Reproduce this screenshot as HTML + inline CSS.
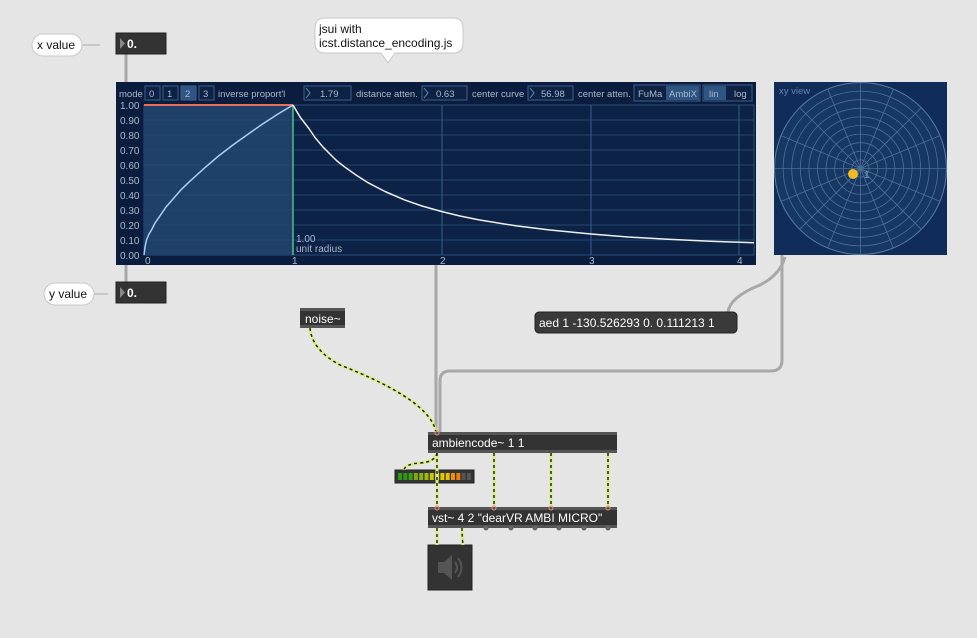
<!DOCTYPE html>
<html><head><meta charset="utf-8"><style>
html,body{margin:0;padding:0;background:#e5e5e5;width:977px;height:638px;overflow:hidden}
svg{display:block;font-family:"Liberation Sans",Arial,sans-serif}
</style></head><body>
<svg width="977" height="638" viewBox="0 0 977 638" xmlns="http://www.w3.org/2000/svg">
<defs>
<clipPath id="xyc"><rect x="774" y="82" width="173" height="173"/></clipPath>
</defs>
<rect width="977" height="638" fill="#e5e5e5"/>

<g fill="none" stroke="#a8a8a8" stroke-width="3">
<line x1="126" y1="54" x2="126" y2="82"/>
<line x1="126" y1="264" x2="126" y2="282"/>
<line x1="436" y1="265" x2="436" y2="432"/>
<path d="M782 255 L782 360 Q782 371 771 371 L450 371 Q440 371 440 381 L440 432"/>
<path d="M785 257 Q780 275 760 285 Q730 297 728 312"/>
</g>
<g stroke="#c8c8c8" stroke-width="2"><line x1="82" y1="45" x2="100" y2="45"/><line x1="94" y1="294" x2="108" y2="294"/></g>

<rect x="32" y="34" width="50" height="22" rx="11" fill="#fff" stroke="#c8c8c8"/>
<text x="37" y="49" font-size="12" fill="#111">x value</text>
<rect x="44" y="283" width="50" height="22" rx="11" fill="#fff" stroke="#c8c8c8"/>
<text x="49" y="298" font-size="12" fill="#111">y value</text>
<path d="M325 18 H453 Q463 18 463 28 V43 Q463 53 453 53 H395 L388 63 L381 53 H325 Q315 53 315 43 V28 Q315 18 325 18 Z" fill="#fff" stroke="#c8c8c8"/>
<text x="319" y="33" font-size="12" fill="#111">jsui with</text>
<text x="319" y="47" font-size="12" fill="#111">icst.distance_encoding.js</text>

<rect x="116" y="33" width="50" height="21" fill="#333" stroke="#222"/>
<path d="M120 38 L125 43.5 L120 49 Z" fill="#888"/>
<text x="127" y="48" font-size="12" font-weight="bold" fill="#fff">0.</text>
<rect x="116" y="282" width="50" height="21" fill="#333" stroke="#222"/>
<path d="M120 287 L125 292.5 L120 298 Z" fill="#888"/>
<text x="127" y="297" font-size="12" font-weight="bold" fill="#fff">0.</text>

<rect x="116" y="82" width="640" height="183" fill="#0b1d3e"/>
<g font-size="9.5" fill="#aab8cc">
<text x="119" y="97">mode</text>
<rect x="145" y="86" width="15" height="14" fill="#0d2244" stroke="#3c5f8a"/><text x="149" y="97">0</text>
<rect x="163" y="86" width="15" height="14" fill="#0d2244" stroke="#3c5f8a"/><text x="167" y="97">1</text>
<rect x="181" y="86" width="15" height="14" fill="#2f5583" stroke="#3c5f8a"/><text x="185" y="97">2</text>
<rect x="199" y="86" width="15" height="14" fill="#0d2244" stroke="#3c5f8a"/><text x="203" y="97">3</text>
<text x="218" y="97">inverse proport'l</text>
<rect x="304" y="86" width="47" height="14" fill="#0d2244" stroke="#3c5f8a"/><path d="M306 88 L310 93 L306 98" fill="none" stroke="#6a8ab0"/><text x="320" y="97">1.79</text>
<text x="356" y="97">distance atten.</text>
<rect x="422" y="86" width="45" height="14" fill="#0d2244" stroke="#3c5f8a"/><path d="M424 88 L428 93 L424 98" fill="none" stroke="#6a8ab0"/><text x="436" y="97">0.63</text>
<text x="472" y="97">center curve</text>
<rect x="528" y="86" width="45" height="14" fill="#0d2244" stroke="#3c5f8a"/><path d="M530 88 L534 93 L530 98" fill="none" stroke="#6a8ab0"/><text x="541" y="97">56.98</text>
<text x="578" y="97">center atten.</text>
<rect x="634" y="85" width="66" height="16" fill="#0d2244" stroke="#3c5f8a"/><rect x="666" y="86" width="33" height="14" fill="#2f5583"/>
<text x="638" y="97">FuMa</text><text x="669" y="97">AmbiX</text>
<rect x="703" y="85" width="49" height="16" fill="#0d2244" stroke="#3c5f8a"/><rect x="704" y="86" width="22" height="14" fill="#2f5583"/>
<text x="709" y="97">lin</text><text x="734" y="97">log</text>
</g>
<rect x="144" y="105" width="610" height="150" fill="#0c2247" stroke="#2a4a78"/>
<rect x="144" y="105" width="149" height="150" fill="#1f4068"/>
<g stroke="#25466f" stroke-width="1">
<line x1="144" y1="120" x2="754" y2="120"/><line x1="144" y1="135" x2="754" y2="135"/><line x1="144" y1="150" x2="754" y2="150"/>
<line x1="144" y1="165" x2="754" y2="165"/><line x1="144" y1="180" x2="754" y2="180"/><line x1="144" y1="195" x2="754" y2="195"/>
<line x1="144" y1="210" x2="754" y2="210"/><line x1="144" y1="225" x2="754" y2="225"/><line x1="144" y1="240" x2="754" y2="240"/>
</g>
<g stroke="#36608f"><line x1="442" y1="105" x2="442" y2="255"/><line x1="591" y1="105" x2="591" y2="255"/><line x1="739" y1="105" x2="739" y2="255"/></g>
<line x1="144" y1="105" x2="293" y2="105" stroke="#e8705a" stroke-width="2"/>
<line x1="293" y1="105" x2="293" y2="255" stroke="#4cc08a" stroke-width="1.5"/>
<path d="M144 255 L145 247 L146.5 240 L149 234 L151.5 230 L155 223 L159 217.3 L166 207 L174 197.9 L181 189.8 L189 182.1 L204 168.4 L218.5 156 L233.4 144.6 L248.3 134 L263 123.7 L278 114 L293 105" fill="none" stroke="#a8d0f0" stroke-width="1.5" stroke-linejoin="round"/>
<path d="M293 105 L296.5 111 L300.4 117.5 L308.9 128.5 L315 137.5 L322.8 146.8 L330.3 154.4 L337 161 L345.1 167.3 L356 175 L367.5 182.4 L385 191.5 L404.6 199.9 L422 206 L442 211.6 L460 216 L479 219.9 L516.5 225.9 L550 230 L591 234 L628 237 L665.5 239.1 L710 241.2 L754 242.8" fill="none" stroke="#f0f0f0" stroke-width="1.5" stroke-linejoin="round"/>
<g font-size="10" fill="#aab8cc">
<text x="120" y="109">1.00</text><text x="120" y="124">0.90</text><text x="120" y="139">0.80</text><text x="120" y="154">0.70</text>
<text x="120" y="169">0.60</text><text x="120" y="184">0.50</text><text x="120" y="199">0.40</text><text x="120" y="214">0.30</text>
<text x="120" y="229">0.20</text><text x="120" y="244">0.10</text><text x="120" y="259">0.00</text>
<text x="145" y="264">0</text><text x="292" y="264">1</text><text x="440" y="264">2</text><text x="589" y="264">3</text><text x="737" y="264">4</text>
<text x="296" y="242">1.00</text><text x="296" y="252">unit radius</text>
</g>

<rect x="774" y="82" width="173" height="173" fill="#0f2d58"/>
<g clip-path="url(#xyc)">
<circle cx="860.5" cy="168.5" r="86" fill="#163862" stroke="#5a7ca4"/>
<g fill="none" stroke="#4d6f98" stroke-width="0.8">
<circle cx="860.5" cy="168.5" r="77.4"/><circle cx="860.5" cy="168.5" r="68.8"/><circle cx="860.5" cy="168.5" r="60.2"/><circle cx="860.5" cy="168.5" r="51.6"/>
<circle cx="860.5" cy="168.5" r="43"/><circle cx="860.5" cy="168.5" r="34.4"/><circle cx="860.5" cy="168.5" r="25.8"/><circle cx="860.5" cy="168.5" r="17.2"/><circle cx="860.5" cy="168.5" r="8.6"/>
<line x1="774" y1="168.5" x2="947" y2="168.5"/><line x1="860.5" y1="82" x2="860.5" y2="255"/>
<line x1="781" y1="135.6" x2="940" y2="201.4"/><line x1="781" y1="201.4" x2="940" y2="135.6"/>
<line x1="799.7" y1="107.7" x2="921.3" y2="229.3"/><line x1="799.7" y1="229.3" x2="921.3" y2="107.7"/>
<line x1="827.6" y1="89" x2="893.4" y2="248"/><line x1="893.4" y1="89" x2="827.6" y2="248"/>
</g>
</g>
<text x="779" y="94" font-size="9.5" fill="#6683a8">xy view</text>
<circle cx="853" cy="174" r="5" fill="#f5b820"/>
<text x="864" y="178" font-size="10" fill="#8aa0c0">1</text>

<rect x="535" y="312" width="202" height="21" rx="4" fill="#3a3a3a" stroke="#222"/>
<text x="539" y="327" font-size="12" fill="#fff">aed 1 -130.526293 0. 0.111213 1</text>

<rect x="300" y="308" width="45" height="20" fill="#333"/><rect x="300" y="308" width="45" height="3" fill="#555"/><rect x="300" y="325" width="45" height="3" fill="#555"/>
<text x="305" y="323" font-size="12" fill="#fff">noise~</text>
<rect x="428" y="432" width="189" height="21" fill="#333"/><rect x="428" y="432" width="189" height="3" fill="#555"/><rect x="428" y="450" width="189" height="3" fill="#555"/>
<text x="432" y="447" font-size="12" fill="#fff">ambiencode~ 1 1</text>
<rect x="428" y="507" width="189" height="21" fill="#333"/><rect x="428" y="507" width="189" height="3" fill="#555"/><rect x="428" y="525" width="189" height="3" fill="#555"/>
<text x="432" y="522" font-size="12" fill="#fff">vst~ 4 2 "dearVR AMBI MICRO"</text>
<g fill="#666"><circle cx="486" cy="528" r="2.5"/><circle cx="511" cy="528" r="2.5"/><circle cx="535" cy="528" r="2.5"/><circle cx="559" cy="528" r="2.5"/><circle cx="584" cy="528" r="2.5"/><circle cx="608" cy="528" r="2.5"/></g>

<rect x="395" y="470" width="79" height="13" fill="#333" stroke="#222"/>
<g>
<rect x="398" y="473" width="4" height="7" fill="#2a9a10"/><rect x="403.3" y="473" width="4" height="7" fill="#2a9a10"/><rect x="408.6" y="473" width="4" height="7" fill="#3aa010"/>
<rect x="413.9" y="473" width="4" height="7" fill="#80aa10"/><rect x="419.2" y="473" width="4" height="7" fill="#90b010"/><rect x="424.5" y="473" width="4" height="7" fill="#a0b810"/>
<rect x="429.8" y="473" width="4" height="7" fill="#c8c800"/><rect x="435.1" y="473" width="4" height="7" fill="#d8d000"/><rect x="440.4" y="473" width="4" height="7" fill="#e0c800"/>
<rect x="445.7" y="473" width="4" height="7" fill="#e8c000"/><rect x="451" y="473" width="4" height="7" fill="#f09000"/><rect x="456.3" y="473" width="4" height="7" fill="#f08000"/>
<rect x="461.6" y="473" width="4" height="7" fill="#555"/><rect x="466.9" y="473" width="4" height="7" fill="#555"/>
</g>

<rect x="428" y="545" width="44" height="45" fill="#333" stroke="#222"/>
<path d="M438 562 H444 L452 555 V580 L444 573 H438 Z" fill="#555"/>
<path d="M455 562 Q459 567.5 455 573 M458 558 Q465 567.5 458 577" fill="none" stroke="#555" stroke-width="2"/>

<g fill="none" stroke-width="3">
<g stroke="#d8f080">
<path d="M310 328 Q312 350 340 365 Q430 400 436 432"/>
<line x1="437" y1="453" x2="437" y2="507"/><line x1="494" y1="453" x2="494" y2="507"/>
<line x1="551" y1="453" x2="551" y2="507"/><line x1="608" y1="453" x2="608" y2="507"/>
<path d="M437 453 Q435 462 420 463 Q405 464 404 470"/>
<line x1="437" y1="528" x2="437" y2="545"/><path d="M462 528 Q462 536 463 545"/>
</g>
<g stroke="#222" stroke-dasharray="3 3" stroke-width="1.5">
<path d="M310 328 Q312 350 340 365 Q430 400 436 432"/>
<line x1="437" y1="453" x2="437" y2="507"/><line x1="494" y1="453" x2="494" y2="507"/>
<line x1="551" y1="453" x2="551" y2="507"/><line x1="608" y1="453" x2="608" y2="507"/>
<path d="M437 453 Q435 462 420 463 Q405 464 404 470"/>
<line x1="437" y1="528" x2="437" y2="545"/><path d="M462 528 Q462 536 463 545"/>
</g>
</g>
<g fill="none" stroke="#e89080" stroke-width="1">
<circle cx="437" cy="433" r="2"/><circle cx="437" cy="508" r="2"/><circle cx="494" cy="508" r="2"/><circle cx="551" cy="508" r="2"/><circle cx="608" cy="508" r="2"/>
</g>
</svg>
</body></html>
